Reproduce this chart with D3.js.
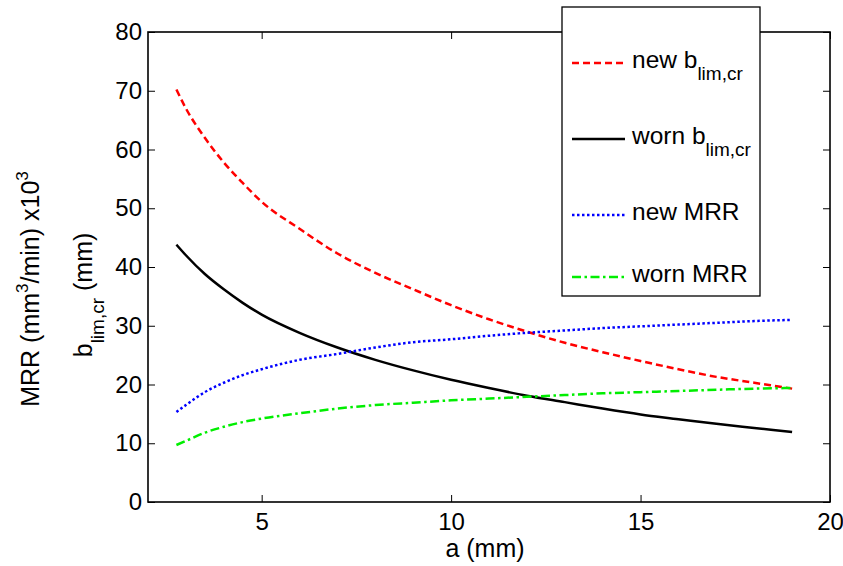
<!DOCTYPE html>
<html>
<head>
<meta charset="utf-8">
<script src="https://cdn.jsdelivr.net/npm/d3@7"></script>
<style>
  body { margin: 0; background: #fff; }
  svg { font-family: "Liberation Sans", Arial, sans-serif; }
  .tick text { font-size: 24px; fill: #000; }
</style>
</head>
<body>
<div id="chart"></div>
<script>
// depth of cut a (mm)
const aValues = [2.75, 3, 3.5, 4, 4.5, 5, 6, 7, 8, 9, 10, 11, 12, 13, 14, 15, 16, 17, 18, 19];

const newBlim  = [70.2, 67.0, 62.0, 57.8, 54.3, 51.1, 46.5, 42.3, 39.0, 36.2, 33.5, 31.1, 29.0, 27.1, 25.5, 24.0, 22.6, 21.3, 20.3, 19.3];
const wornBlim = [43.8, 42.0, 38.8, 36.2, 33.9, 31.9, 28.8, 26.3, 24.2, 22.4, 20.8, 19.4, 18.1, 17.0, 15.9, 14.9, 14.1, 13.3, 12.6, 11.9];
const newMRR   = [15.3, 16.5, 18.7, 20.3, 21.6, 22.6, 24.2, 25.2, 26.3, 27.2, 27.7, 28.3, 28.8, 29.2, 29.6, 29.9, 30.2, 30.5, 30.8, 31.0];
const wornMRR  = [9.7, 10.4, 11.8, 12.8, 13.6, 14.2, 15.1, 15.9, 16.5, 16.9, 17.3, 17.6, 17.9, 18.2, 18.5, 18.7, 18.9, 19.1, 19.3, 19.4];

const xTicks = [5, 10, 15, 20];
const yTicks = [0, 10, 20, 30, 40, 50, 60, 70, 80];

const series = [
  { name: "new b", sub: "lim,cr", values: newBlim,  color: "#ff0000", dash: "7,4" },
  { name: "worn b", sub: "lim,cr", values: wornBlim, color: "#000000", dash: null },
  { name: "new MRR", sub: null, values: newMRR,   color: "#0000ff", dash: "2.5,2.5" },
  { name: "worn MRR", sub: null, values: wornMRR,  color: "#00ee00", dash: "9,3.5,2.5,3.5" }
];

const W = 843, H = 566;
const plotL = 148, plotR = 830, plotT = 32, plotB = 502;

const svg = d3.select("#chart").append("svg")
    .attr("width", W)
    .attr("height", H);

const x = d3.scaleLinear().domain([2, 20]).range([plotL, plotR]);
const y = d3.scaleLinear().domain([0, 80]).range([plotB, plotT]);

// axes, matlab style ticks pointing inward
const tickLen = 7;
svg.append("g")
    .attr("transform", `translate(0,${plotB})`)
    .call(d3.axisBottom(x).tickValues(xTicks).tickSizeInner(-tickLen).tickSizeOuter(0).tickPadding(11))
    .call(g => g.select(".domain").remove());
svg.append("g")
    .attr("transform", `translate(0,${plotT})`)
    .call(d3.axisTop(x).tickValues(xTicks).tickSizeInner(-tickLen).tickSizeOuter(0).tickFormat(""))
    .call(g => g.select(".domain").remove());
svg.append("g")
    .attr("transform", `translate(${plotL},0)`)
    .call(d3.axisLeft(y).tickValues(yTicks).tickSizeInner(-tickLen).tickSizeOuter(0).tickPadding(6))
    .call(g => g.select(".domain").remove());
svg.append("g")
    .attr("transform", `translate(${plotR},0)`)
    .call(d3.axisRight(y).tickValues(yTicks).tickSizeInner(-tickLen).tickSizeOuter(0).tickFormat(""))
    .call(g => g.select(".domain").remove());

svg.selectAll(".tick line").attr("stroke", "#000").attr("stroke-width", 1);

// frame
svg.append("rect")
    .attr("x", plotL).attr("y", plotT)
    .attr("width", plotR - plotL).attr("height", plotB - plotT)
    .attr("fill", "none")
    .attr("stroke", "#000")
    .attr("stroke-width", 1.6);

// curves
const line = d3.line()
    .x((d, i) => x(aValues[i]))
    .y(d => y(d))
    .curve(d3.curveMonotoneX);

svg.selectAll(".series")
    .data(series)
    .enter().append("path")
    .attr("class", "series")
    .attr("d", d => line(d.values))
    .attr("fill", "none")
    .attr("stroke", d => d.color)
    .attr("stroke-width", 2.5)
    .attr("stroke-dasharray", d => d.dash);

// legend
const legend = svg.append("g");
legend.append("rect")
    .attr("x", 562).attr("y", 7)
    .attr("width", 198).attr("height", 289)
    .attr("fill", "#fff")
    .attr("stroke", "#000")
    .attr("stroke-width", 1.3);

const legendY = [63, 139, 215, 277];
const item = legend.selectAll(".item")
    .data(series)
    .enter().append("g")
    .attr("transform", (d, i) => `translate(0,${legendY[i]})`);

item.append("line")
    .attr("x1", 572).attr("x2", 625)
    .attr("y1", 0).attr("y2", 0)
    .attr("stroke", d => d.color)
    .attr("stroke-width", 2.5)
    .attr("stroke-dasharray", d => d.dash);

const itemText = item.append("text")
    .attr("x", 632).attr("y", 5)
    .attr("font-size", 24.5);
itemText.append("tspan").text(d => d.name);
itemText.filter(d => d.sub).append("tspan")
    .attr("font-size", 19)
    .attr("dy", 12)
    .text(d => d.sub);

// axis labels
svg.append("text")
    .attr("x", 485)
    .attr("y", 557)
    .attr("text-anchor", "middle")
    .attr("font-size", 25)
    .text("a (mm)");

const mrrLabel = svg.append("text")
    .attr("transform", "translate(39,289) rotate(-90)")
    .attr("text-anchor", "middle")
    .attr("font-size", 25);
mrrLabel.append("tspan").text("MRR (mm");
mrrLabel.append("tspan").attr("font-size", 17).attr("dy", -11).text("3");
mrrLabel.append("tspan").attr("dy", 11).text("/min) x10");
mrrLabel.append("tspan").attr("font-size", 17).attr("dy", -11).text("3");

const bLabel = svg.append("text")
    .attr("transform", "translate(92,295) rotate(-90)")
    .attr("text-anchor", "middle")
    .attr("font-size", 25);
bLabel.append("tspan").text("b");
bLabel.append("tspan").attr("font-size", 19).attr("dy", 12).text("lim,cr");
bLabel.append("tspan").attr("dy", -12).text(" (mm)");
</script>
</body>
</html>
